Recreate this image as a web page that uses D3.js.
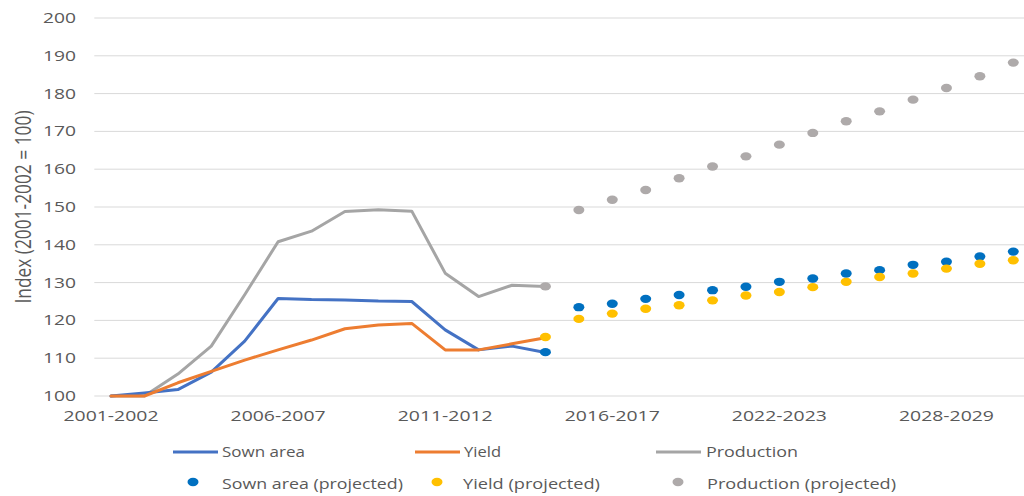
<!DOCTYPE html>
<html>
<head>
<meta charset="utf-8">
<script src="https://cdn.jsdelivr.net/npm/d3@7"></script>
<style>
  body { margin: 0; background: #fff; }
  text { font-family: "Open Sans", "DejaVu Sans", sans-serif; fill: #595959; }
</style>
</head>
<body>
<div id="chart"></div>
<script>
// categories (only every 5th label is shown on the axis)
const categories = [
  "2001-2002", "2002-2003", "2003-2004", "2004-2005", "2005-2006",
  "2006-2007", "2007-2008", "2008-2009", "2009-2010", "2010-2011",
  "2011-2012", "2012-2013", "2013-2014", "2014-2015", "2015-2016",
  "2016-2017", "2018-2019", "2019-2020", "2020-2021", "2021-2022",
  "2022-2023", "2023-2024", "2024-2025", "2025-2026", "2026-2027",
  "2028-2029", "2029-2030", "2030-2031"
];

// historical series (index 0..13)
const sownArea   = [100, 100.8, 101.7, 106.3, 114.5, 125.8, 125.5, 125.4, 125.1, 125.0, 117.5, 112.2, 113.2, 111.5];
const yieldIdx   = [100, 100, 103.5, 106.5, 109.5, 112.2, 114.8, 117.8, 118.8, 119.2, 112.2, 112.2, 113.8, 115.4];
const production = [100, 100, 105.8, 113.2, 126.8, 140.8, 143.6, 148.8, 149.3, 148.9, 132.5, 126.3, 129.3, 129.0];

// projected series (index 13..27)
const projStart = 13;
const sownAreaProj   = [111.6, 123.5, 124.4, 125.7, 126.7, 128.0, 128.9, 130.2, 131.1, 132.4, 133.3, 134.7, 135.5, 136.9, 138.2];
const yieldProj      = [115.6, 120.4, 121.8, 123.1, 124.0, 125.3, 126.6, 127.5, 128.8, 130.2, 131.5, 132.4, 133.7, 135.0, 135.9];
const productionProj = [129.0, 149.2, 151.9, 154.5, 157.6, 160.7, 163.4, 166.5, 169.6, 172.7, 175.3, 178.4, 181.5, 184.6, 188.2];

const yTicks = [100, 110, 120, 130, 140, 150, 160, 170, 180, 190, 200];

const width = 1024;
const height = 496;

const svg = d3.select("#chart").append("svg").attr("width", width).attr("height", height);

const x = d3.scaleBand().domain(d3.range(categories.length)).range([94.3, 1030]);
const cx = i => x(i) + x.bandwidth() / 2;
const y = d3.scaleLinear().domain([100, 200]).range([396, 18]);

// GRIDLINES
svg.append("g")
  .selectAll("line")
  .data(yTicks)
  .join("line")
  .attr("x1", 94.3)
  .attr("x2", width)
  .attr("y1", d => y(d))
  .attr("y2", d => y(d))
  .attr("stroke", "#d9d9d9")
  .attr("stroke-width", 1);

// Y AXIS LABELS
svg.append("g")
  .selectAll("text")
  .data(yTicks)
  .join("text")
  .attr("x", 76)
  .attr("y", d => y(d) + 5)
  .attr("text-anchor", "end")
  .attr("font-size", 14)
  .attr("textLength", 33)
  .attr("lengthAdjust", "spacingAndGlyphs")
  .text(d => d);

// X AXIS LABELS (every 5th category)
svg.append("g")
  .selectAll("text")
  .data(d3.range(0, categories.length, 5))
  .join("text")
  .attr("x", d => cx(d) - 47.5)
  .attr("y", 421)
  .attr("font-size", 14)
  .attr("textLength", 95)
  .attr("lengthAdjust", "spacingAndGlyphs")
  .text(d => categories[d]);

// Y TITLE
svg.append("text")
  .attr("transform", "translate(31,207) rotate(-90)")
  .attr("text-anchor", "middle")
  .attr("font-family", '"Liberation Sans Narrow", "Liberation Sans", sans-serif')
  .attr("font-size", 21)
  .attr("textLength", 193)
  .attr("lengthAdjust", "spacingAndGlyphs")
  .text("Index (2001-2002 = 100)");

// LINES
const line = d3.line().x((d, i) => cx(i)).y(d => y(d));
const lineSeries = [
  { values: production, color: "#a5a5a5" },
  { values: sownArea, color: "#4472c4" },
  { values: yieldIdx, color: "#ed7d31" }
];
svg.append("g")
  .selectAll("path")
  .data(lineSeries)
  .join("path")
  .attr("d", d => line(d.values))
  .attr("fill", "none")
  .attr("stroke", d => d.color)
  .attr("stroke-width", 3)
  .attr("stroke-linejoin", "round")
  .attr("stroke-linecap", "round");

// PROJECTED DOTS
const dotSeries = [
  { values: productionProj, color: "#aeaaaa" },
  { values: sownAreaProj, color: "#0070c0" },
  { values: yieldProj, color: "#ffc000" }
];
dotSeries.forEach(s => {
  svg.append("g")
    .selectAll("ellipse")
    .data(s.values)
    .join("ellipse")
    .attr("cx", (d, i) => cx(projStart + i))
    .attr("cy", d => y(d))
    .attr("rx", 5.5)
    .attr("ry", 4.2)
    .attr("fill", s.color);
});

// LEGEND
const legendLines = [
  { label: "Sown area", color: "#4472c4", x0: 173, tx: 222, w: 83 },
  { label: "Yield", color: "#ed7d31", x0: 415, tx: 464, w: 37 },
  { label: "Production", color: "#a5a5a5", x0: 656, tx: 706, w: 92 }
];
const legendDots = [
  { label: "Sown area (projected)", color: "#0070c0", dx: 193, tx: 222, w: 181 },
  { label: "Yield (projected)", color: "#ffc000", dx: 437, tx: 463, w: 137 },
  { label: "Production (projected)", color: "#aeaaaa", dx: 678, tx: 707, w: 189 }
];

const lg1 = svg.append("g").selectAll("g").data(legendLines).join("g");
lg1.append("line")
  .attr("x1", d => d.x0)
  .attr("x2", d => d.x0 + 45)
  .attr("y1", 452)
  .attr("y2", 452)
  .attr("stroke", d => d.color)
  .attr("stroke-width", 3);
lg1.append("text")
  .attr("x", d => d.tx)
  .attr("y", 457)
  .attr("font-size", 14)
  .attr("textLength", d => d.w)
  .attr("lengthAdjust", "spacingAndGlyphs")
  .text(d => d.label);

const lg2 = svg.append("g").selectAll("g").data(legendDots).join("g");
lg2.append("ellipse")
  .attr("cx", d => d.dx)
  .attr("cy", 482)
  .attr("rx", 5.5)
  .attr("ry", 4.2)
  .attr("fill", d => d.color);
lg2.append("text")
  .attr("x", d => d.tx)
  .attr("y", 489)
  .attr("font-size", 14)
  .attr("textLength", d => d.w)
  .attr("lengthAdjust", "spacingAndGlyphs")
  .text(d => d.label);
</script>
</body>
</html>
